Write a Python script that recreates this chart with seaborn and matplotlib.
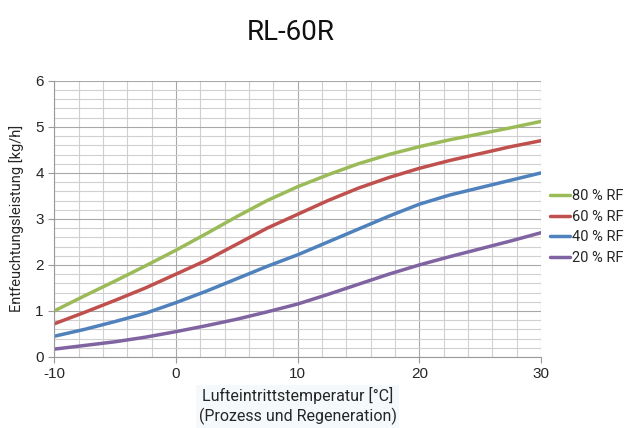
import numpy as np
import pandas as pd
import matplotlib
matplotlib.use('Agg')
import matplotlib.pyplot as plt
import seaborn as sns
from matplotlib.ticker import MultipleLocator

# Werte
temp = [-10, -7.5, -5, -2.5, 0, 2.5, 5, 7.5, 10, 12.5, 15, 17.5, 20, 22.5, 25, 27.5, 30]
rf80 = [1.00, 1.33, 1.65, 1.98, 2.32, 2.68, 3.05, 3.40, 3.70, 3.96, 4.20, 4.40, 4.57, 4.72, 4.85, 4.98, 5.12]
rf60 = [0.72, 0.97, 1.23, 1.50, 1.80, 2.10, 2.45, 2.80, 3.10, 3.40, 3.67, 3.90, 4.10, 4.27, 4.42, 4.57, 4.70]
rf40 = [0.45, 0.60, 0.77, 0.95, 1.18, 1.43, 1.70, 1.97, 2.22, 2.50, 2.78, 3.06, 3.32, 3.52, 3.68, 3.84, 4.00]
rf20 = [0.17, 0.25, 0.33, 0.43, 0.55, 0.68, 0.82, 0.98, 1.15, 1.36, 1.58, 1.80, 2.00, 2.18, 2.35, 2.52, 2.70]
labels = ['80 % RF', '60 % RF', '40 % RF', '20 % RF']
colors = ['#9bbb59', '#c0504d', '#4f81bd', '#8064a2']

df = pd.concat([
    pd.DataFrame({'T': temp, 'Leistung': vals, 'RF': lab})
    for vals, lab in zip([rf80, rf60, rf40, rf20], labels)
], ignore_index=True)

sns.set_style('white')
plt.rcParams['font.family'] = ['Roboto', 'DejaVu Sans']
plt.rcParams['axes.unicode_minus'] = False

fig = plt.figure(figsize=(6.38, 4.28), dpi=100)
ax = fig.add_axes([0.085, 0.166, 0.763, 0.645])

sns.lineplot(data=df, x='T', y='Leistung', hue='RF', hue_order=labels,
             palette=colors, linewidth=2.5, ax=ax)

ax.set_xlim(-10, 30)
ax.set_ylim(0, 6)
ax.xaxis.set_major_locator(MultipleLocator(10))
ax.xaxis.set_minor_locator(MultipleLocator(2))
ax.yaxis.set_major_locator(MultipleLocator(1))
ax.yaxis.set_minor_locator(MultipleLocator(0.2))
ax.grid(which='minor', color='#d0d0d0', linewidth=0.8)
ax.grid(which='major', color='#a8a8a8', linewidth=0.8)
ax.set_axisbelow(True)
for s in ['top', 'right']:
    ax.spines[s].set_visible(False)
for s in ['left', 'bottom']:
    ax.spines[s].set_color('#9a9a9a')
    ax.spines[s].set_linewidth(0.8)
ax.tick_params(which='major', direction='out', length=4, color='#9a9a9a',
               labelsize=11, left=True, bottom=True)
ax.tick_params(which='minor', length=0)
for t in ax.get_xticklabels() + ax.get_yticklabels():
    t.set_fontfamily('Liberation Sans')

ax.set_xlabel('Lufteintrittstemperatur [°C]\n(Prozess und Regeneration)', fontsize=11.5,
              linespacing=1.3,
              bbox=dict(facecolor='#f5f9fc', edgecolor='none', pad=2))
ax.set_ylabel('Entfeuchtungsleistung [kg/h]', fontsize=10.5)
ax.yaxis.set_label_coords(-0.062, 0.5)

fig.suptitle('RL-60R', x=0.455, y=0.955, fontsize=20, color='#111111')

ax.legend(loc='center left', bbox_to_anchor=(1.0, 0.47), frameon=False,
          fontsize=10.5, handlelength=1.4, handletextpad=0.1,
          labelspacing=0.45, borderaxespad=0.2)

fig.savefig('out.png', dpi=100)
